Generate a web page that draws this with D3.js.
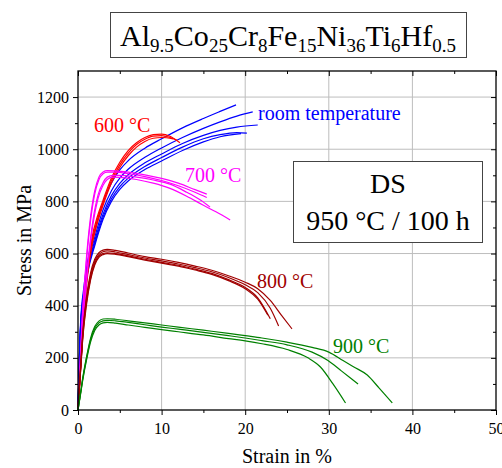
<!DOCTYPE html>
<html>
<head>
<meta charset="utf-8">
<script src="https://cdn.jsdelivr.net/npm/d3@7"></script>
<style>
  body { margin: 0; background: #fff; }
</style>
</head>
<body>
<div id="chart"></div>
<script>
var w = 502;
var h = 468;
var serif = "'Liberation Serif', 'Times New Roman', serif";

// strain in %, stress in MPa
var roomTemp = [
  [[0,0],[0.3,330],[0.7,470],[1.2,580],[2,686],[3,796],[4,871],[5,921],[6,956],[8,1004],[10,1040],[12.5,1082],[15,1118],[17,1145],[18.9,1170]],
  [[0,0],[0.3,318],[0.7,454],[1.2,560],[2,662],[3,768],[4,841],[5,889],[6,923],[8,969],[10,1005],[12.5,1045],[15,1080],[17,1105],[19,1127],[20.9,1143]],
  [[0,0],[0.3,312],[0.7,444],[1.2,548],[2,648],[3,751],[4,822],[5,869],[6,902],[8,948],[10,982],[12.5,1022],[15,1053],[17,1072],[19,1085],[21.5,1093]],
  [[0,0],[0.3,307],[0.7,437],[1.2,540],[2,638],[3,740],[4,810],[5,857],[6,889],[8,934],[10,968],[12.5,1008],[15,1040],[17,1056],[19,1064],[20.2,1062]],
  [[0,0],[0.3,303],[0.7,431],[1.2,532],[2,630],[3,731],[4,800],[5,846],[6,878],[8,922],[10,955],[12.5,995],[15,1028],[17,1048],[19.5,1060]]
];
var t600 = [
  [[0,0],[0.3,170],[0.8,430],[1.2,560],[1.7,665],[2.3,740],[3,805],[4,890],[5,950],[6,995],[7,1025],[8,1045],[9,1056],[10,1058],[11,1050],[12.2,1025]],
  [[0,0],[0.3,160],[0.8,415],[1.2,545],[1.7,650],[2.3,728],[3,795],[4,880],[5,940],[6,985],[7,1018],[8,1038],[9,1050],[10,1052],[11,1045],[11.8,1035]],
  [[0,0],[0.3,150],[0.8,400],[1.2,530],[1.7,635],[2.3,715],[3,785],[4,870],[5,930],[6,975],[7,1008],[8,1030],[9,1042],[10,1045],[11.4,1040]]
];
var t700 = [
  [[0,0],[0.5,350],[1,580],[1.5,740],[2,840],[2.5,893],[3,913],[3.5,918],[4.5,917],[6,912],[8,902],[10,888],[12,870],[14,845],[15.4,828]],
  [[0,0],[0.5,340],[1,565],[1.5,725],[2,828],[2.5,883],[3,906],[3.5,912],[4.5,912],[6,906],[8,895],[10,880],[12,860],[14,835],[15.4,815]],
  [[0,0],[0.6,330],[1.2,570],[1.8,730],[2.4,825],[3,872],[3.5,893],[4.2,900],[5,900],[7,893],[9,882],[11,866],[13,835],[14.5,808],[15.8,778]],
  [[0,0],[0.6,320],[1.2,555],[1.8,715],[2.4,812],[3,862],[3.5,884],[4.2,893],[5,892],[7,884],[9,870],[11,850],[13,820],[15,785],[16.5,760],[18.2,729]]
];
var t800 = [
  [[0,0],[0.3,160],[0.6,310],[1,430],[1.5,525],[2,578],[2.5,603],[3,613],[3.5,616],[4.5,612],[6,602],[8,588],[10,578],[12,566],[14,552],[16,536],[18,515],[20,490],[21.5,465],[23,420],[24.3,365],[25.6,311]],
  [[0,0],[0.3,155],[0.6,300],[1,420],[1.5,515],[2,570],[2.5,596],[3,607],[3.5,610],[4.5,606],[6,596],[8,583],[10,572],[12,560],[14,546],[16,530],[18,508],[20,480],[21.5,450],[23,390],[24,322]],
  [[0,0],[0.3,150],[0.6,292],[1,410],[1.5,505],[2,562],[2.5,590],[3,600],[3.5,603],[4.5,600],[6,591],[8,578],[10,566],[12,555],[14,540],[16,524],[18,500],[20,470],[21.5,430],[23,350]],
  [[0,0],[0.3,145],[0.6,285],[1,400],[1.5,498],[2,556],[2.5,585],[3,596],[3.5,600],[4.5,597],[6,588],[8,575],[10,563],[12,552],[14,537],[16,520],[18,496],[20,465],[21.5,425],[22.7,364]]
];
var t900 = [
  [[0,0],[0.3,65],[0.6,130],[1,200],[1.5,275],[2,320],[2.5,341],[3,349],[3.5,350],[4.5,348],[6,342],[8,334],[10,326],[12,318],[15,306],[18,294],[20,285],[22,276],[25,260],[28,240],[30,222],[31.7,190],[33,165],[34.6,134],[36,85],[37.6,27]],
  [[0,0],[0.3,62],[0.6,125],[1,195],[1.5,268],[2,313],[2.5,334],[3,342],[3.5,344],[4.5,342],[6,336],[8,327],[10,318],[12,310],[15,298],[18,285],[20,276],[22,266],[25,250],[28,222],[29.9,190],[31.5,150],[33.5,100]],
  [[0,0],[0.3,60],[0.6,120],[1,188],[1.5,260],[2,305],[2.5,326],[3,334],[3.5,336],[4.5,333],[6,326],[8,317],[10,308],[12,300],[15,288],[18,274],[20,265],[22,254],[25,232],[27.5,200],[29,165],[30.5,100],[32,27]]
];

var groups = [
  {name: "room temperature", curves: roomTemp, color: "#0000ff"},
  {name: "600 °C", curves: t600, color: "#ff0000"},
  {name: "700 °C", curves: t700, color: "#ff00ff"},
  {name: "800 °C", curves: t800, color: "#a00000"},
  {name: "900 °C", curves: t900, color: "#008000"}
];

var xTicks = [0, 10, 20, 30, 40, 50];
var xMinor = [5, 15, 25, 35, 45];
var yTicks = [0, 200, 400, 600, 800, 1000, 1200];
var yMinor = [100, 300, 500, 700, 900, 1100];

var padL = 78, padR = 496, padT = 71, padB = 410;

var svg = d3.select("#chart")
            .append("svg")
            .attr("width", w)
            .attr("height", h)
            .style("font-family", serif);

var xScale = d3.scaleLinear().domain([0, 50]).range([padL, padR]);
var yScale = d3.scaleLinear().domain([0, 1300]).range([padB, padT]);

// grid
svg.append("g")
    .selectAll("line")
    .data(xTicks.slice(1, -1))
    .enter()
    .append("line")
    .attr("x1", (d) => xScale(d)).attr("x2", (d) => xScale(d))
    .attr("y1", padT).attr("y2", padB)
    .attr("stroke", "#bdbdbd");
svg.append("g")
    .selectAll("line")
    .data(yTicks.slice(1))
    .enter()
    .append("line")
    .attr("x1", padL).attr("x2", padR)
    .attr("y1", (d) => yScale(d)).attr("y2", (d) => yScale(d))
    .attr("stroke", "#bdbdbd");

// curves
var line = d3.line()
    .x((d) => xScale(d[0]))
    .y((d) => yScale(d[1]))
    .curve(d3.curveMonotoneX);

groups.forEach(function(g) {
    svg.append("g")
        .selectAll("path")
        .data(g.curves)
        .enter()
        .append("path")
        .attr("d", line)
        .attr("fill", "none")
        .attr("stroke", g.color)
        .attr("stroke-width", 1.2);
});

// axes
function styleAxis(sel) {
    sel.attr("font-family", null).attr("font-size", null);
    sel.select(".domain").remove();
    sel.selectAll("line").attr("stroke", "#000");
    sel.selectAll("text")
        .style("font-family", serif)
        .style("font-size", "16px")
        .attr("fill", "#000");
}

svg.append("g")
    .attr("transform", "translate(0," + padB + ")")
    .call(d3.axisBottom(xScale).tickValues(xTicks).tickSize(5).tickPadding(8).tickFormat(d3.format("d")))
    .call(styleAxis);
svg.append("g")
    .attr("transform", "translate(0," + padB + ")")
    .call(d3.axisBottom(xScale).tickValues(xMinor).tickSize(3).tickFormat(""))
    .call(styleAxis);
svg.append("g")
    .attr("transform", "translate(0," + padT + ")")
    .call(d3.axisTop(xScale).tickValues(xTicks).tickSize(-5).tickFormat(""))
    .call(styleAxis);
svg.append("g")
    .attr("transform", "translate(0," + padT + ")")
    .call(d3.axisTop(xScale).tickValues(xMinor).tickSize(-3).tickFormat(""))
    .call(styleAxis);

svg.append("g")
    .attr("transform", "translate(" + padL + ",0)")
    .call(d3.axisLeft(yScale).tickValues(yTicks).tickSize(5).tickPadding(4).tickFormat(d3.format("d")))
    .call(styleAxis);
svg.append("g")
    .attr("transform", "translate(" + padL + ",0)")
    .call(d3.axisLeft(yScale).tickValues(yMinor).tickSize(3).tickFormat(""))
    .call(styleAxis);
svg.append("g")
    .attr("transform", "translate(" + padR + ",0)")
    .call(d3.axisRight(yScale).tickValues(yTicks).tickSize(-5).tickFormat(""))
    .call(styleAxis);
svg.append("g")
    .attr("transform", "translate(" + padR + ",0)")
    .call(d3.axisRight(yScale).tickValues(yMinor).tickSize(-3).tickFormat(""))
    .call(styleAxis);

// frame
svg.append("rect")
    .attr("x", padL).attr("y", padT)
    .attr("width", padR - padL).attr("height", padB - padT)
    .attr("fill", "none")
    .attr("stroke", "#000")
    .attr("stroke-width", 1.3);

// axis titles
svg.append("text")
    .attr("x", (padL + padR) / 2)
    .attr("y", 463)
    .attr("text-anchor", "middle")
    .style("font-family", serif)
    .style("font-size", "20px")
    .text("Strain in %");
svg.append("text")
    .attr("transform", "translate(31," + ((padT + padB) / 2) + ") rotate(-90)")
    .attr("text-anchor", "middle")
    .style("font-family", serif)
    .style("font-size", "20px")
    .text("Stress in MPa");

// curve labels
var labelPos = {
    "room temperature": [258, 120],
    "600 °C": [94, 132],
    "700 °C": [185, 182],
    "800 °C": [257, 288],
    "900 °C": [333, 353]
};
groups.forEach(function(g) {
    svg.append("text")
        .attr("x", labelPos[g.name][0])
        .attr("y", labelPos[g.name][1])
        .attr("fill", g.color)
        .style("font-family", serif)
        .style("font-size", "20px")
        .text(g.name);
});

// title box
svg.append("rect")
    .attr("x", 110.5).attr("y", 12.5)
    .attr("width", 356).attr("height", 45)
    .attr("fill", "#fff")
    .attr("stroke", "#444");
var title = svg.append("text")
    .attr("x", 288)
    .attr("y", 46)
    .attr("text-anchor", "middle")
    .style("font-family", serif)
    .style("font-size", "30px");
var parts = [["Al", "9.5"], ["Co", "25"], ["Cr", "8"], ["Fe", "15"], ["Ni", "36"], ["Ti", "6"], ["Hf", "0.5"]];
parts.forEach(function(p, i) {
    title.append("tspan").attr("dy", i == 0 ? 0 : -6).text(p[0]);
    title.append("tspan").attr("dy", 6).style("font-size", "19px").text(p[1]);
});

// DS box
svg.append("rect")
    .attr("x", 293.5).attr("y", 161.5)
    .attr("width", 189).attr("height", 81)
    .attr("fill", "#fff")
    .attr("stroke", "#444");
svg.append("text")
    .attr("x", 388).attr("y", 193)
    .attr("text-anchor", "middle")
    .style("font-family", serif)
    .style("font-size", "28px")
    .text("DS");
svg.append("text")
    .attr("x", 388).attr("y", 230)
    .attr("text-anchor", "middle")
    .style("font-family", serif)
    .style("font-size", "28px")
    .text("950 °C / 100 h");
</script>
</body>
</html>
